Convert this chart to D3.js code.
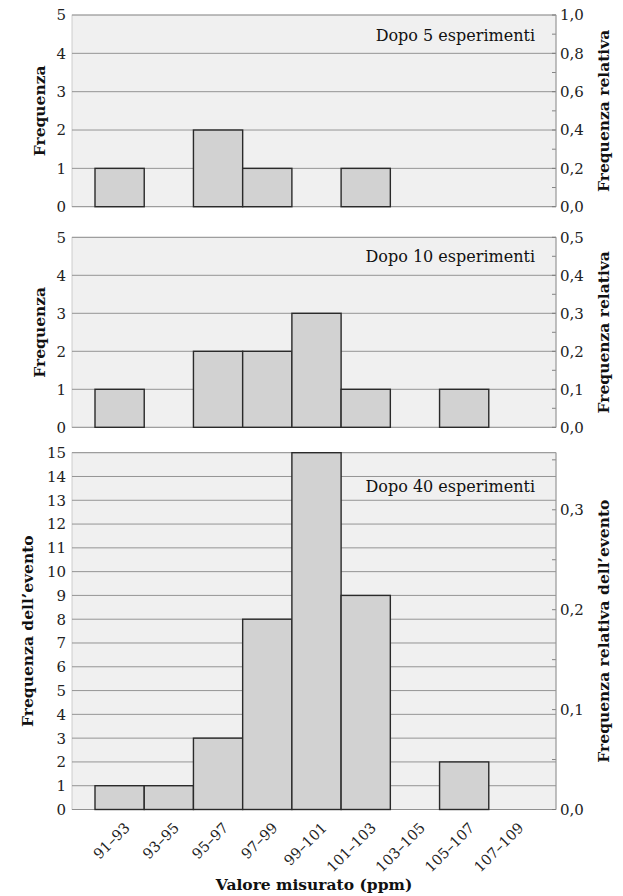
<!DOCTYPE html>
<html>
<head>
<meta charset="utf-8">
<script src="https://cdn.jsdelivr.net/npm/d3@7"></script>
<style>
  html, body { margin: 0; padding: 0; background: #ffffff; }
  svg { display: block; font-family: "DejaVu Serif", "Liberation Serif", serif; }
</style>
</head>
<body>
<svg id="chart" width="623" height="896"></svg>
<script>
// Three stacked histograms: the same measurement after 5, 10 and 40 runs.

const bins = ["91–93", "93–95", "95–97", "97–99", "99–101", "101–103", "103–105", "105–107", "107–109"];

const counts5  = [1, 0, 2, 1, 0, 1, 0, 0, 0];
const counts10 = [1, 0, 2, 2, 3, 1, 0, 1, 0];
const counts40 = [1, 1, 3, 8, 15, 9, 0, 2, 0];

const countTicks5  = [0, 1, 2, 3, 4, 5];
const countTicks10 = [0, 1, 2, 3, 4, 5];
const countTicks40 = d3.range(0, 16);

const relTicks5  = [0, 0.2, 0.4, 0.6, 0.8, 1.0];
const relTicks10 = [0, 0.1, 0.2, 0.3, 0.4, 0.5];
const relTicks40 = [0, 0.1, 0.2, 0.3];

function drawHistograms() {
  const svg = d3.select("#chart");

  const plotLeft = 72, plotRight = 556;
  const x = d3.scaleBand()
    .domain(bins)
    .range([95, 538])
    .padding(0);

  const comma = v => d3.format(".1f")(v).replace(".", ",");

  const panels = [
    { counts: counts5, ticks: countTicks5, rel: relTicks5, relMax: 1.0, relStep: 0.1,
      top: 15, bottom: 206.7, note: "Dopo 5 esperimenti", noteY: 41,
      left: "Frequenza", leftX: 40, right: "Frequenza relativa", xAxis: false },
    { counts: counts10, ticks: countTicks10, rel: relTicks10, relMax: 0.5, relStep: 0.05,
      top: 237.3, bottom: 427.3, note: "Dopo 10 esperimenti", noteY: 262,
      left: "Frequenza", leftX: 40, right: "Frequenza relativa", xAxis: false },
    { counts: counts40, ticks: countTicks40, rel: relTicks40, relMax: 15 / 42, relStep: 0.05,
      top: 452.7, bottom: 809.5, note: "Dopo 40 esperimenti", noteY: 492,
      left: "Frequenza dell’evento", leftX: 28, right: "Frequenza relativa dell’evento", xAxis: true }
  ];

  panels.forEach(p => {
    const yMax = d3.max(p.ticks);
    const y = d3.scaleLinear().domain([0, yMax]).range([p.bottom, p.top]);
    const yRel = d3.scaleLinear().domain([0, p.relMax]).range([p.bottom, p.top]);

    const g = svg.append("g");

    // plot background
    g.append("rect")
      .attr("x", plotLeft)
      .attr("y", p.top)
      .attr("width", plotRight - plotLeft)
      .attr("height", p.bottom - p.top)
      .attr("fill", "#f0f0f0")
      .attr("stroke", "#c4c4c4")
      .attr("stroke-width", 0.8);

    // horizontal grid
    g.selectAll(".grid")
      .data(p.ticks)
      .join("line")
      .attr("x1", plotLeft)
      .attr("x2", plotRight)
      .attr("y1", d => y(d))
      .attr("y2", d => y(d))
      .attr("stroke", "#8a8a8a")
      .attr("stroke-width", 0.9);

    // small inward ticks on the right edge
    const relMinor = d3.range(0, p.relMax + 1e-9, p.relStep);
    g.selectAll(".rtick")
      .data(relMinor)
      .join("line")
      .attr("x1", plotRight - 4)
      .attr("x2", plotRight)
      .attr("y1", d => yRel(d))
      .attr("y2", d => yRel(d))
      .attr("stroke", "#777")
      .attr("stroke-width", 0.9);

    g.append("line")
      .attr("x1", plotRight)
      .attr("x2", plotRight)
      .attr("y1", p.top)
      .attr("y2", p.bottom)
      .attr("stroke", "#999")
      .attr("stroke-width", 1);

    // bars
    g.selectAll(".bar")
      .data(bins.map((b, i) => ({ bin: b, value: p.counts[i] })).filter(d => d.value > 0))
      .join("rect")
      .attr("x", d => x(d.bin))
      .attr("y", d => y(d.value))
      .attr("width", x.bandwidth())
      .attr("height", d => p.bottom - y(d.value))
      .attr("fill", "#d2d2d2")
      .attr("stroke", "#2a2a2a")
      .attr("stroke-width", 1.4);

    // left tick labels
    g.selectAll(".ylab")
      .data(p.ticks)
      .join("text")
      .attr("x", 66)
      .attr("y", d => y(d))
      .attr("dy", "0.36em")
      .attr("text-anchor", "end")
      .attr("font-size", 15)
      .attr("fill", "#222")
      .text(d => d);

    // right tick labels
    g.selectAll(".rlab")
      .data(p.rel)
      .join("text")
      .attr("x", 560)
      .attr("y", d => yRel(d))
      .attr("dy", "0.36em")
      .attr("font-size", 15)
      .attr("fill", "#222")
      .text(d => comma(d));

    // note in the top right corner
    g.append("text")
      .attr("x", 535)
      .attr("y", p.noteY)
      .attr("text-anchor", "end")
      .attr("font-size", 16)
      .attr("fill", "#111")
      .text(p.note);

    const midY = (p.top + p.bottom) / 2;

    g.append("text")
      .attr("transform", `translate(${p.leftX}, ${midY}) rotate(-90)`)
      .attr("text-anchor", "middle")
      .attr("dy", "0.35em")
      .attr("font-size", 15.5)
      .attr("font-weight", "bold")
      .attr("fill", "#111")
      .text(p.left);

    g.append("text")
      .attr("transform", `translate(604, ${midY}) rotate(-90)`)
      .attr("text-anchor", "middle")
      .attr("dy", "0.35em")
      .attr("font-size", 15.5)
      .attr("font-weight", "bold")
      .attr("fill", "#111")
      .text(p.right);

    if (p.xAxis) {
      g.selectAll(".xlab")
        .data(bins)
        .join("text")
        .attr("transform", d => `translate(${x(d) + x.bandwidth() / 2 + 4}, ${p.bottom + 12}) rotate(-45)`)
        .attr("text-anchor", "end")
        .attr("dy", "0.7em")
        .attr("font-size", 14.5)
        .attr("fill", "#222")
        .text(d => d);
    }
  });

  svg.append("text")
    .attr("x", 314)
    .attr("y", 890)
    .attr("text-anchor", "middle")
    .attr("font-size", 15.5)
    .attr("font-weight", "bold")
    .attr("fill", "#111")
    .text("Valore misurato (ppm)");
}

drawHistograms();
</script>
</body>
</html>
